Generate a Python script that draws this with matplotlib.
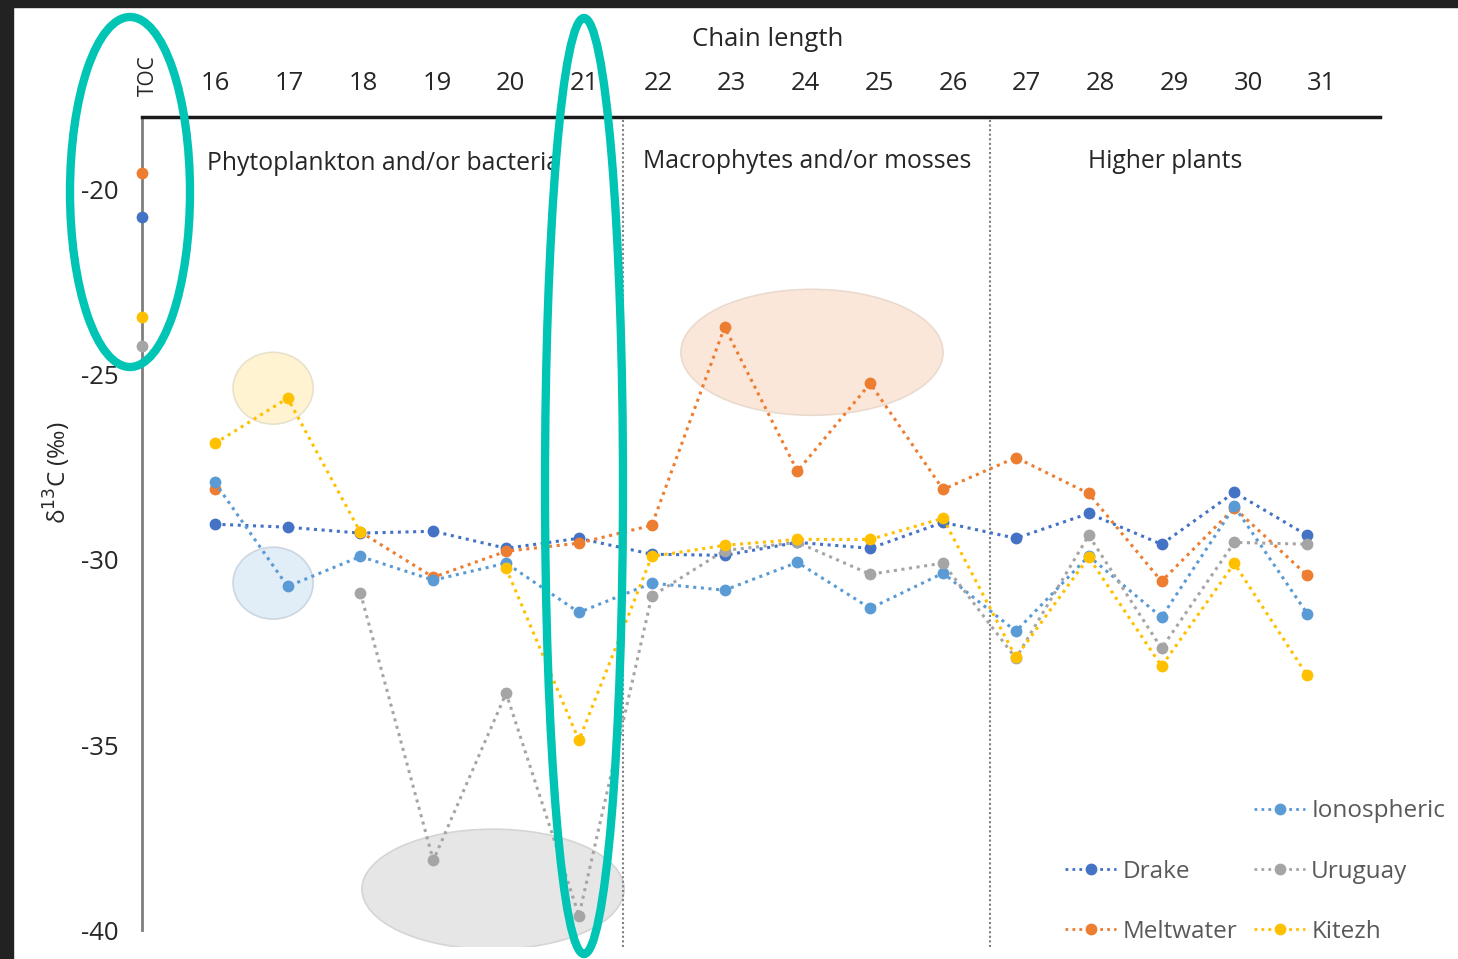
import numpy as np
import matplotlib
matplotlib.use("Agg")
import matplotlib.pyplot as plt
from matplotlib.patches import Ellipse, Rectangle
from matplotlib.lines import Line2D

plt.rcParams['font.family'] = ['Open Sans', 'DejaVu Sans']

# ---------------- data ----------------
chain = [16, 17, 18, 19, 20, 21, 22, 23, 24, 25, 26, 27, 28, 29, 30, 31]
tick_labels = ['TOC'] + [str(c) for c in chain]
nan = np.nan

drake       = [-29.04, -29.12, -29.28, -29.23, -29.69, -29.42, -29.85, -29.88, -29.53, -29.69, -28.99, -29.42, -28.75, -29.58, -28.18, -29.34]
meltwater   = [-28.10, nan,    -29.25, -30.47, -29.77, -29.55, -29.07, -23.72, -27.61, -25.24, -28.10, -27.24, -28.21, -30.58, -28.60, -30.42]
ionospheric = [-27.91, -30.72, -29.91, -30.55, -30.09, -31.42, -30.63, -30.82, -30.07, -31.31, -30.36, -31.93, -29.90, -31.55, -28.56, -31.45]
uruguay     = [nan,    nan,    -30.90, -38.11, -33.60, -39.60, -30.98, -29.75, -29.53, -30.39, -30.09, -32.66, -29.34, -32.39, -29.53, -29.58]
kitezh      = [-26.86, -25.64, -29.26, nan,    -30.23, -34.87, -29.91, -29.61, -29.45, -29.45, -28.88, -32.63, -29.93, -32.87, -30.10, -33.12]

toc = {'Drake': -20.76, 'Meltwater': -19.57, 'Ionospheric': nan, 'Uruguay': -24.24, 'Kitezh': -23.45}

series = [
    ('Drake', drake, '#4472C4'),
    ('Meltwater', meltwater, '#ED7D31'),
    ('Ionospheric', ionospheric, '#5B9BD5'),
    ('Uruguay', uruguay, '#A5A5A5'),
    ('Kitezh', kitezh, '#FFC000'),
]
toc_pos = 15
regions = [21.6, 26.65]
region_labels = ['Phytoplankton and/or bacteria', 'Macrophytes and/or mosses', 'Higher plants']

# ---------------- figure ----------------
W, H = 1458, 959
fig = plt.figure(figsize=(W / 100, H / 100), dpi=100)
ax = fig.add_axes([142 / W, 1 - 947 / H, (1380 - 142) / W, (947 - 117) / H])

# highlight ellipses (data coords)
ax.add_patch(Ellipse((16.8, -25.37), 1.10, 1.94, facecolor='#FFF2CC', edgecolor='#E6DFC8', lw=1.2, alpha=0.9, zorder=1))
ax.add_patch(Ellipse((16.8, -30.63), 1.10, 1.94, facecolor='#DEEBF7', edgecolor='#C9D3DE', lw=1.2, alpha=0.9, zorder=1))
ax.add_patch(Ellipse((24.2, -24.40), 3.6, 3.4, facecolor='#FBE5D6', edgecolor='#E8D8CC', lw=1.2, alpha=0.9, zorder=1))
ax.add_patch(Ellipse((19.82, -38.89), 3.6, 3.24, facecolor='#E7E6E6', edgecolor='#D5D5D5', lw=1.2, zorder=1))

for name, vals, col in series:
    ax.plot(chain, vals, linestyle=(0, (1, 1.5)), lw=2.2, color=col, marker='o',
            markersize=8.5, markeredgewidth=0, zorder=3)
    if not np.isnan(toc[name]):
        ax.plot([toc_pos], [toc[name]], linestyle='none', marker='o', markersize=8.5,
                markeredgewidth=0, color=col, zorder=3, clip_on=False)

for xv in regions:
    ax.axvline(xv, color='#7F7F7F', lw=1.5, linestyle=(0, (1, 1.2)), zorder=2)

ax.set_xlim(15, 32)
ax.set_ylim(-40.45, -18.05)
ax.set_xticks([])
ax.set_yticks([-20, -25, -30, -35, -40])
ax.set_yticklabels(['-20', '-25', '-30', '-35', '-40'])
ax.tick_params(axis='y', length=0, pad=17, labelsize=18.5, labelcolor='#262626')

for s in ['right', 'bottom']:
    ax.spines[s].set_visible(False)
ax.spines['top'].set_linewidth(2.5)
ax.spines['top'].set_color('#1a1a1a')
ax.spines['left'].set_linewidth(2)
ax.spines['left'].set_color('#7F7F7F')
ax.spines['left'].set_bounds(-40, -18.05)

# top category labels (slightly wider spacing than the plotted points, as in the original)
ax2 = ax.twiny()
ax2.set_xlim(15.0, 31.79)
ax2.set_xticks([15.08] + chain)
ax2.set_xticklabels(tick_labels)
ax2.tick_params(axis='x', length=0, pad=15, labelsize=18.5, labelcolor='#262626')
for s in ax2.spines.values():
    s.set_visible(False)
t0 = ax2.get_xticklabels()[0]
t0.set_rotation(90)
t0.set_fontsize(15)
t0.set_va('bottom')

fig.text(768 / W, 1 - 40 / H, 'Chain length', fontsize=18.5, color='#262626', ha='center', va='center')
fig.text(57 / W, 1 - 473 / H, r'δ$^{13}$C (‰)', fontsize=17.5, color='#262626', ha='center', va='center',
         rotation=90)

fig.text(207 / W, 1 - 163 / H, region_labels[0], fontsize=17.8,
         color='#262626', va='center', ha='left')
fig.text(807 / W, 1 - 162 / H, region_labels[1], fontsize=17.8,
         color='#262626', va='center', ha='center')
fig.text(1165 / W, 1 - 162 / H, region_labels[2], fontsize=17.8,
         color='#262626', va='center', ha='center')

# legend
handles = [Line2D([], [], linestyle='none', marker='none')]
labels = ['']
order = ['Drake', 'Meltwater', 'Ionospheric', 'Uruguay', 'Kitezh']
colmap = {n: c for n, _, c in series}
for n in order:
    handles.append(Line2D([], [], linestyle=(0, (1, 1.5)), lw=2, color=colmap[n], marker='o',
                          markersize=8.5, markeredgewidth=0))
    labels.append(n)
leg = fig.legend(handles, labels, ncol=2, loc='lower right', bbox_to_anchor=(1445 / W, 1 - 944 / H),
                 frameon=False, fontsize=17.5, labelcolor='#595959', handlelength=2.1,
                 handletextpad=0.25, columnspacing=0.7, labelspacing=1.5, borderpad=0,
                 borderaxespad=0)

# annotation ellipses (teal, figure coords)
fig.patches.append(Ellipse((130 / W, 1 - 192 / H), 120 / W, 350 / H, transform=fig.transFigure,
                           facecolor='none', edgecolor='#00C4B4', lw=6, zorder=10))
fig.patches.append(Ellipse((584 / W, 1 - 486 / H), 78 / W, 936 / H, transform=fig.transFigure,
                           facecolor='none', edgecolor='#00C4B4', lw=6, zorder=10))

# dark frame
fig.patches.append(Rectangle((0, 1 - 7 / H), 1, 7 / H, transform=fig.transFigure, color='#222222', zorder=11))
fig.patches.append(Rectangle((0, 0), 13 / W, 1, transform=fig.transFigure, color='#222222', zorder=11))

fig.savefig('out.png', dpi=100)
